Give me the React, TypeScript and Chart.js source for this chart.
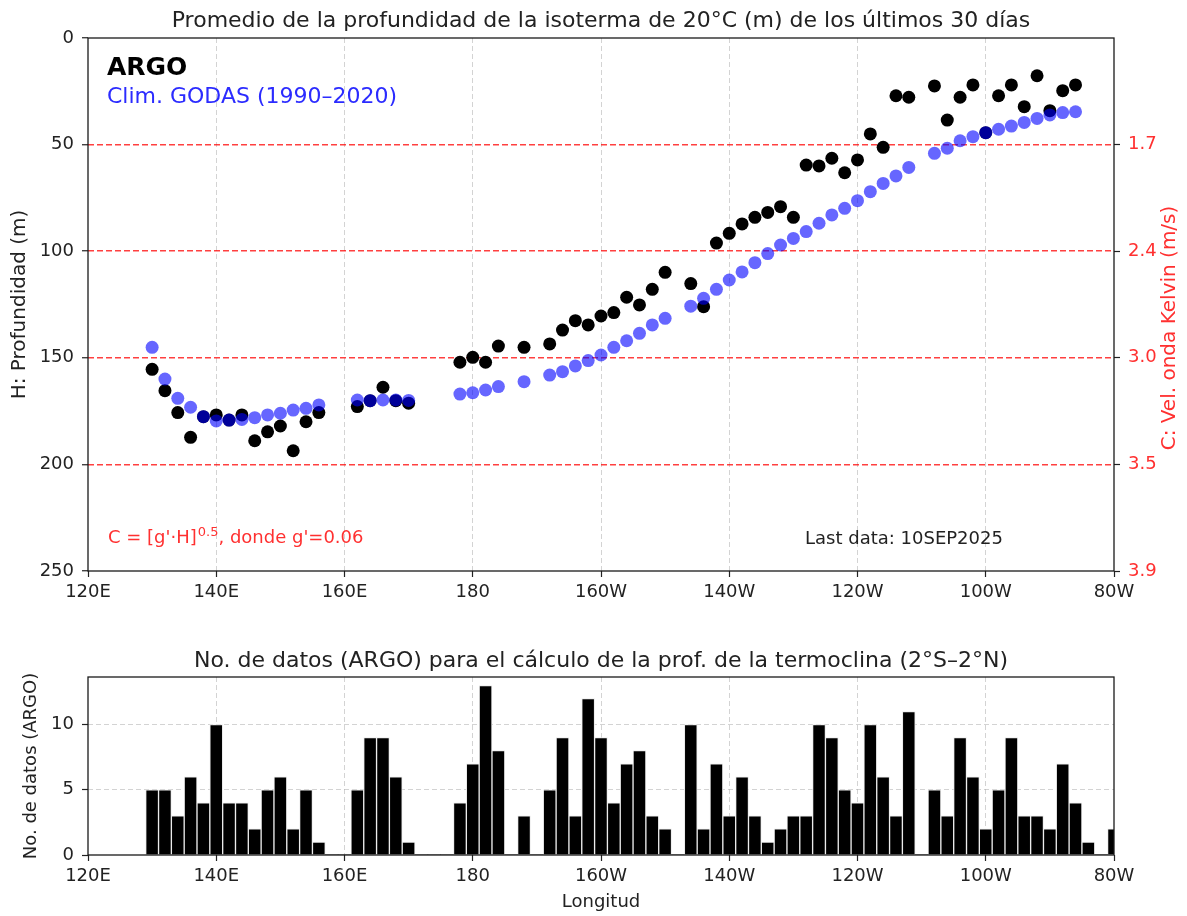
import React, { useEffect, useRef } from 'react';
import { Chart, registerables } from 'chart.js';

Chart.register(...registerables);

const FONT = '"DejaVu Sans", sans-serif';

// ---------- Data (top panel) ----------
const lonPoints = [
  130, 132, 134, 136, 138, 140, 142, 144, 146, 148, 150, 152, 154, 156,
  162, 164, 166, 168, 170,
  178, 180, 182, 184,
  188,
  192, 194, 196, 198, 200, 202, 204, 206, 208, 210,
  214, 216, 218, 220, 222, 224, 226, 228, 230, 232, 234, 236, 238, 240, 242, 244, 246, 248,
  252, 254, 256, 258, 260, 262, 264, 266, 268, 270, 272, 274,
];

const argoDepth = [
  155.4, 165.4, 175.7, 187.3, 177.6, 176.8, 179.2, 176.8, 188.9, 184.7, 182.0, 193.6, 180.0, 175.7,
  172.9, 170.1, 163.8, 170.1, 171.3,
  152.1, 149.8, 152.1, 144.5,
  145.1,
  143.5, 137.0, 132.6, 134.6, 130.4, 128.8, 121.6, 125.2, 117.9, 109.9,
  115.2, 126.0, 96.2, 91.6, 87.2, 84.1, 81.8, 79.1, 84.1, 59.6, 60.0, 56.4, 63.2, 57.2, 45.0, 51.3, 27.1, 27.8,
  22.5, 38.5, 27.8, 22.0, 44.4, 27.1, 22.0, 32.2, 17.7, 34.1, 24.7, 22.0,
];

const godasDepth = [
  145.1, 160.0, 169.0, 173.2, 177.6, 179.6, 179.2, 178.9, 178.1, 176.8, 176.0, 174.5, 173.7, 172.1,
  169.8, 170.1, 169.8, 169.8, 170.0,
  167.0, 166.4, 165.1, 163.5,
  161.2,
  158.1, 156.5, 153.8, 151.3, 148.7, 145.1, 142.0, 138.5, 134.6, 131.5,
  125.8, 122.1, 117.9, 113.5, 109.7, 105.4, 101.1, 97.1, 94.0, 90.8, 86.9, 83.0, 79.9, 76.3, 72.1, 68.2, 64.7, 60.7,
  54.1, 51.7, 48.2, 46.3, 44.4, 42.8, 41.3, 39.6, 37.7, 36.1, 35.0, 34.6,
];

// ---------- Data (bottom panel) ----------
const binCenters = [
  130, 132, 134, 136, 138, 140, 142, 144, 146, 148, 150, 152, 154, 156, 158, 160,
  162, 164, 166, 168, 170, 172, 174, 176, 178, 180, 182, 184, 186, 188, 190, 192,
  194, 196, 198, 200, 202, 204, 206, 208, 210, 212, 214, 216, 218, 220, 222, 224,
  226, 228, 230, 232, 234, 236, 238, 240, 242, 244, 246, 248, 250, 252, 254, 256,
  258, 260, 262, 264, 266, 268, 270, 272, 274, 276, 278, 280,
];

const argoCounts = [
  5, 5, 3, 6, 4, 10, 4, 4, 2, 5, 6, 2, 5, 1, 0, 0,
  5, 9, 9, 6, 1, 0, 0, 0, 4, 7, 13, 8, 0, 3, 0, 5,
  9, 3, 12, 9, 4, 7, 8, 3, 2, 0, 10, 2, 7, 3, 6, 3,
  1, 2, 3, 3, 10, 9, 5, 4, 10, 6, 3, 11, 0, 5, 3, 9,
  6, 2, 5, 9, 3, 3, 2, 7, 4, 1, 0, 2,
];

// ---------- Ticks ----------
const lonTicks = [120, 140, 160, 180, 200, 220, 240, 260, 280];
const lonLabels = ['120E', '140E', '160E', '180', '160W', '140W', '120W', '100W', '80W'];
const depthTicks = [0, 50, 100, 150, 200, 250];
const kelvinTicks = [50, 100, 150, 200, 250];
const kelvinLabels = ['1.7', '2.4', '3.0', '3.5', '3.9'];
const countTicks = [0, 5, 10];

const TITLE_TOP = 'Promedio de la profundidad de la isoterma de 20°C (m) de los últimos 30 días';
const TITLE_BOT = 'No. de datos (ARGO) para el cálculo de la prof. de la termoclina (2°S–2°N)';

const RED = '#ff3030';
const TXT = '#222';
const GRID = 'rgba(175,175,175,0.55)';
const CLEAR = 'rgba(0,0,0,0)';

const boxPlugin = {
  id: 'box',
  afterDraw(chart: any) {
    const { ctx, chartArea: a } = chart;
    ctx.save();
    ctx.strokeStyle = '#1a1a1a';
    ctx.lineWidth = 1.3;
    ctx.setLineDash([]);
    ctx.strokeRect(a.left, a.top, a.right - a.left, a.bottom - a.top);
    ctx.restore();
  },
};

const topTextPlugin = {
  id: 'topText',
  afterDraw(chart: any) {
    const { ctx, chartArea: a } = chart;
    ctx.save();
    ctx.textBaseline = 'alphabetic';
    ctx.textAlign = 'center';
    ctx.fillStyle = TXT;
    ctx.font = `22px ${FONT}`;
    ctx.fillText(TITLE_TOP, (a.left + a.right) / 2, 27);

    ctx.textAlign = 'left';
    ctx.fillStyle = '#000';
    ctx.font = `bold 25px ${FONT}`;
    ctx.fillText('ARGO', 107, 75);
    ctx.fillStyle = '#2b2bff';
    ctx.font = `22px ${FONT}`;
    ctx.fillText('Clim. GODAS (1990–2020)', 107, 103);

    // formula
    ctx.fillStyle = RED;
    ctx.font = `18px ${FONT}`;
    let x = 108;
    const base = 543;
    const p1 = "C = [g'·H]";
    ctx.fillText(p1, x, base);
    x += ctx.measureText(p1).width;
    ctx.font = `13px ${FONT}`;
    ctx.fillText('0.5', x + 1, base - 7);
    x += ctx.measureText('0.5').width + 1;
    ctx.font = `18px ${FONT}`;
    ctx.fillText(", donde g'=0.06", x, base);

    ctx.fillStyle = TXT;
    ctx.fillText('Last data: 10SEP2025', 805, 544);

    // right axis label (reads bottom-to-top)
    ctx.save();
    ctx.translate(1170, 328);
    ctx.rotate(-Math.PI / 2);
    ctx.textAlign = 'center';
    ctx.textBaseline = 'middle';
    ctx.fillStyle = RED;
    ctx.font = `20px ${FONT}`;
    ctx.fillText('C: Vel. onda Kelvin (m/s)', 0, 0);
    ctx.restore();

    ctx.restore();
  },
};

const botTextPlugin = {
  id: 'botText',
  afterDraw(chart: any) {
    const { ctx, chartArea: a } = chart;
    ctx.save();
    ctx.textBaseline = 'alphabetic';
    ctx.textAlign = 'center';
    ctx.fillStyle = TXT;
    ctx.font = `22px ${FONT}`;
    ctx.fillText(TITLE_BOT, (a.left + a.right) / 2, 47);
    ctx.restore();
  },
};

const tickFont = { family: FONT, size: 18 };

export default function App() {
  const topRef = useRef<HTMLCanvasElement>(null);
  const botRef = useRef<HTMLCanvasElement>(null);

  useEffect(() => {
    const lonTickCb = (v: any) => {
      const i = lonTicks.indexOf(Number(v));
      return i >= 0 ? lonLabels[i] : '';
    };

    const top = new Chart(topRef.current as HTMLCanvasElement, {
      type: 'scatter',
      data: {
        datasets: [
          {
            label: 'Clim. GODAS (1990–2020)',
            data: lonPoints.map((x, i) => ({ x, y: godasDepth[i] })),
            backgroundColor: 'rgba(0,0,255,0.6)',
            borderWidth: 0,
            pointRadius: 6.5,
            order: 0,
          },
          {
            label: 'ARGO',
            data: lonPoints.map((x, i) => ({ x, y: argoDepth[i] })),
            backgroundColor: '#000',
            borderWidth: 0,
            pointRadius: 6.5,
            order: 1,
          },
        ],
      },
      options: {
        responsive: false,
        animation: false,
        devicePixelRatio: 1,
        layout: { padding: { top: 38, left: 0, right: 0, bottom: 0 } },
        plugins: { legend: { display: false }, tooltip: { enabled: false }, title: { display: false } },
        scales: {
          x: {
            type: 'linear',
            min: 120,
            max: 280,
            z: 1,
            afterFit: (s: any) => { s.height = 49; },
            afterBuildTicks: (s: any) => { s.ticks = lonTicks.map((v) => ({ value: v })); },
            ticks: { callback: lonTickCb, font: tickFont, color: TXT, padding: 5, maxRotation: 0, autoSkip: false },
            grid: {
              color: (c: any) => (c.tick && (c.tick.value === 120 || c.tick.value === 280) ? CLEAR : GRID),
              lineWidth: 1,
              tickLength: 6,
              tickColor: TXT,
              tickWidth: 1.2,
            },
            border: { display: false, dash: [5, 3] },
          },
          y: {
            type: 'linear',
            position: 'left',
            reverse: true,
            min: 0,
            max: 250,
            z: 1,
            afterFit: (s: any) => { s.width = 88; },
            afterBuildTicks: (s: any) => { s.ticks = depthTicks.map((v) => ({ value: v })); },
            ticks: { font: tickFont, color: TXT, padding: 8 },
            grid: {
              color: (c: any) => (c.tick && (c.tick.value === 0 || c.tick.value === 250) ? CLEAR : 'rgba(255,0,0,0.75)'),
              lineWidth: 1.5,
              tickLength: 6,
              tickColor: TXT,
              tickWidth: 1.2,
            },
            border: { display: false, dash: [6, 3] },
            title: { display: true, text: 'H: Profundidad (m)', font: { family: FONT, size: 20 }, color: TXT, padding: { top: 8, bottom: 0 } },
          },
          y1: {
            type: 'linear',
            position: 'right',
            reverse: true,
            min: 0,
            max: 250,
            z: 1,
            afterFit: (s: any) => { s.width = 73; },
            afterBuildTicks: (s: any) => { s.ticks = kelvinTicks.map((v) => ({ value: v })); },
            ticks: {
              font: tickFont,
              color: RED,
              padding: 8,
              callback: (v: any) => {
                const i = kelvinTicks.indexOf(Number(v));
                return i >= 0 ? kelvinLabels[i] : '';
              },
            },
            grid: { drawOnChartArea: false, tickLength: 6, tickColor: TXT, tickWidth: 1.2 },
            border: { display: false },
            title: { display: false },
          },
        },
      } as any,
      plugins: [boxPlugin, topTextPlugin],
    });

    const bot = new Chart(botRef.current as HTMLCanvasElement, {
      type: 'bar',
      data: {
        datasets: [
          {
            label: 'No. de datos',
            data: binCenters.map((x, i) => ({ x, y: argoCounts[i] })),
            backgroundColor: '#000',
            borderColor: 'rgba(235,235,235,1)',
            borderWidth: (c: any) => (c.raw && c.raw.y > 0 ? 1 : 0),
            borderSkipped: 'start',
            barPercentage: 1,
            categoryPercentage: 1,
            clip: 0,
          } as any,
        ],
      },
      options: {
        responsive: false,
        animation: false,
        devicePixelRatio: 1,
        layout: { padding: { top: 57, left: 0, right: 73, bottom: 0 } },
        plugins: { legend: { display: false }, tooltip: { enabled: false }, title: { display: false } },
        scales: {
          x: {
            type: 'linear',
            min: 120,
            max: 280,
            offset: false,
            z: 1,
            afterFit: (s: any) => { s.height = 61; },
            afterBuildTicks: (s: any) => { s.ticks = lonTicks.map((v) => ({ value: v })); },
            ticks: { callback: lonTickCb, font: tickFont, color: TXT, padding: 5, maxRotation: 0, autoSkip: false },
            grid: {
              offset: false,
              color: (c: any) => (c.tick && (c.tick.value === 120 || c.tick.value === 280) ? CLEAR : GRID),
              lineWidth: 1,
              tickLength: 6,
              tickColor: TXT,
              tickWidth: 1.2,
            },
            border: { display: false, dash: [5, 3] },
            title: { display: true, text: 'Longitud', font: tickFont, color: TXT, padding: { top: 0, bottom: 3 } },
          },
          y: {
            type: 'linear',
            min: 0,
            max: 13.65,
            z: 1,
            afterFit: (s: any) => { s.width = 88; },
            afterBuildTicks: (s: any) => { s.ticks = countTicks.map((v) => ({ value: v })); },
            ticks: { font: tickFont, color: TXT, padding: 8 },
            grid: {
              color: (c: any) => (c.tick && c.tick.value === 0 ? CLEAR : GRID),
              lineWidth: 1,
              tickLength: 6,
              tickColor: TXT,
              tickWidth: 1.2,
            },
            border: { display: false, dash: [5, 3] },
            title: { display: true, text: 'No. de datos (ARGO)', font: tickFont, color: TXT, padding: { top: 21, bottom: 0 } },
          },
        },
      } as any,
      plugins: [boxPlugin, botTextPlugin],
    });

    return () => {
      top.destroy();
      bot.destroy();
    };
  }, []);

  return (
    <div style={{ position: 'fixed', left: 0, top: 0, width: 1187, height: 916, background: '#fff' }}>
      <canvas
        ref={topRef}
        width={1187}
        height={620}
        style={{ position: 'absolute', left: 0, top: 0, width: 1187, height: 620 }}
      />
      <canvas
        ref={botRef}
        width={1187}
        height={296}
        style={{ position: 'absolute', left: 0, top: 620, width: 1187, height: 296 }}
      />
    </div>
  );
}
